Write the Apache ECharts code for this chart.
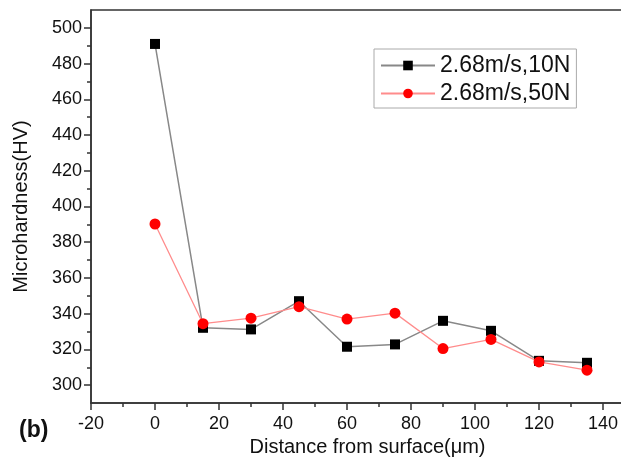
<!DOCTYPE html>
<html>
<head>
<meta charset="utf-8">
<script src="https://cdn.jsdelivr.net/npm/echarts@6/dist/echarts.min.js"></script>
<style>html,body{margin:0;padding:0;background:#fff;}#c{width:621px;height:457px;}</style>
</head>
<body>
<div id="c"></div>
<script>
const distance = [0, 15, 30, 45, 60, 75, 90, 105, 120, 135];
const hard10N = [491, 332.1, 331.2, 347, 321.5, 322.8, 336, 330.4, 313.6, 312.5];
const hard50N = [390.2, 334.4, 337.5, 343.9, 337, 340.3, 320.5, 325.6, 313, 308.4];
const seriesNames = ['2.68m/s,10N', '2.68m/s,50N'];
const yMajorTicks = [300, 320, 340, 360, 380, 400, 420, 440, 460, 480, 500];
const yMinorTicks = [310, 330, 350, 370, 390, 410, 430, 450, 470, 490];
const xTickLabels = [-20, 0, 20, 40, 60, 80, 100, 120, 140];

const font = '"Liberation Sans", Arial, sans-serif';
const chart = echarts.init(document.getElementById('c'), null, {renderer: 'canvas'});
const pairs = (xs, ys) => xs.map((x, i) => [x, ys[i]]);

chart.setOption({
  animation: false,
  backgroundColor: '#fff',
  grid: {left: 91, top: 10, width: 576, height: 393, show: true, borderColor: '#333', borderWidth: 1.5,
    containLabel: false, outerBoundsMode: 'none'},
  legend: {
    orient: 'vertical', left: 374, top: 49,
    borderColor: '#aaa', borderWidth: 1,
    padding: [5, 6, 3, 6], itemGap: 5,
    itemWidth: 54, itemHeight: 12,
    textStyle: {fontFamily: font, fontSize: 23, color: '#111'},
    data: seriesNames
  },
  xAxis: {
    type: 'value', min: -20, max: 160, interval: 20,
    name: 'Distance from surface(μm)', nameLocation: 'middle', nameGap: 32,
    nameTextStyle: {fontFamily: font, fontSize: 20, color: '#111', padding: [0, 23, 0, 0]},
    axisLine: {show: true, onZero: false, lineStyle: {color: '#333', width: 1.5}},
    axisTick: {show: true, inside: false, length: 7, lineStyle: {color: '#333', width: 1.5}},
    minorTick: {show: true, splitNumber: 2, length: 4, lineStyle: {color: '#333', width: 1.5}},
    splitLine: {show: false}, minorSplitLine: {show: false},
    axisLabel: {margin: 12, fontFamily: font, fontSize: 18, color: '#111',
      formatter: v => xTickLabels.indexOf(v) >= 0 ? String(v) : ''}
  },
  yAxis: [{
    type: 'value', min: 290, max: 510,
    name: 'Microhardness(HV)', nameLocation: 'middle', nameGap: 60,
    nameTextStyle: {fontFamily: font, fontSize: 20, color: '#111'},
    axisLine: {show: true, onZero: false, lineStyle: {color: '#333', width: 1.5}},
    axisTick: {show: true, length: 7, customValues: yMajorTicks, lineStyle: {color: '#333', width: 1.5}},
    splitLine: {show: false},
    axisLabel: {margin: 9, fontFamily: font, fontSize: 18, color: '#111', customValues: yMajorTicks}
  }, {
    type: 'value', min: 290, max: 510, position: 'left',
    axisLine: {show: false, onZero: false},
    axisTick: {show: true, length: 4, customValues: yMinorTicks, lineStyle: {color: '#333', width: 1.5}},
    axisLabel: {show: false, customValues: yMinorTicks},
    splitLine: {show: false}
  }],
  graphic: [{
    type: 'text', left: 19, top: 419,
    style: {text: '(b)', fontFamily: font, fontSize: 23, fontWeight: 'bold', fill: '#111'}
  }],
  series: [{
    name: seriesNames[0], type: 'line', data: pairs(distance, hard10N),
    symbol: 'rect', symbolSize: 10,
    itemStyle: {color: '#000'},
    lineStyle: {color: '#888', width: 1.5}, z: 2
  }, {
    name: seriesNames[1], type: 'line', data: pairs(distance, hard50N),
    symbol: 'circle', symbolSize: 11,
    itemStyle: {color: '#ff0000'},
    lineStyle: {color: '#ff8c8c', width: 1.3}, z: 3
  }]
});
</script>
</body>
</html>
